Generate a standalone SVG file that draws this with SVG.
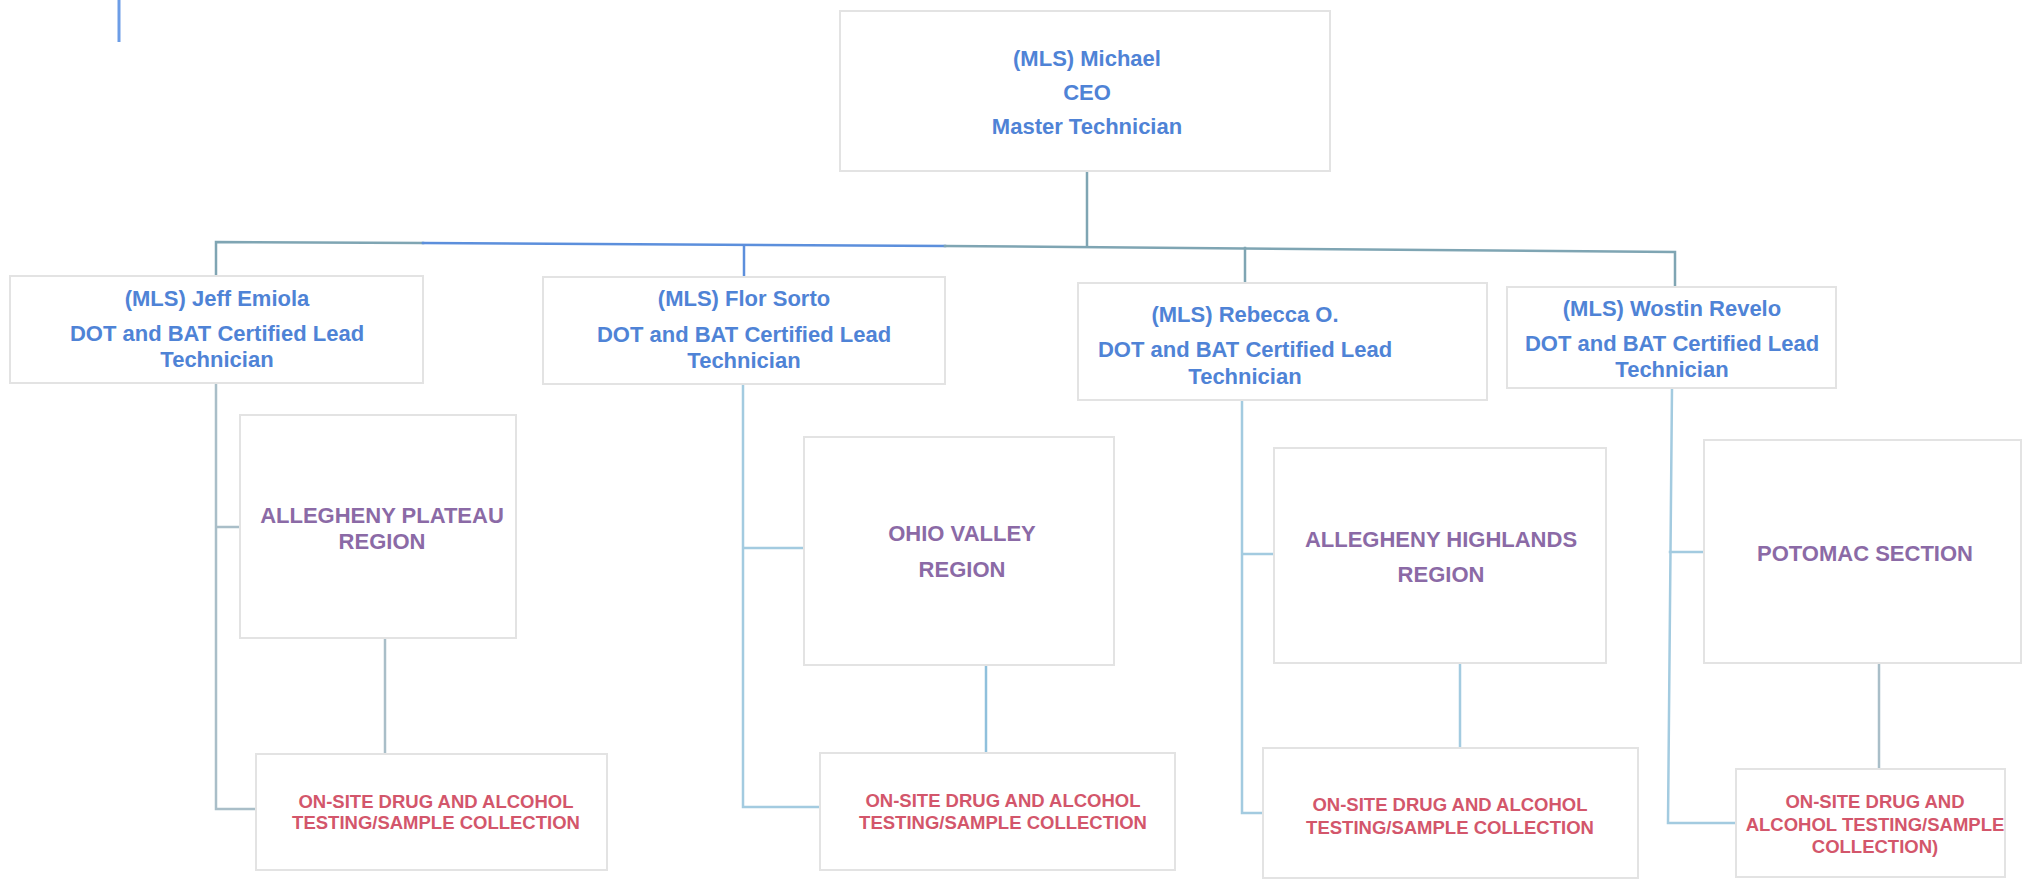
<svg xmlns="http://www.w3.org/2000/svg" width="2028" height="883" viewBox="0 0 2028 883">
<style>
  .box { fill: #ffffff; stroke: #e3e3e3; stroke-width: 2; }
  .t { font-family: "Liberation Sans", Arial, sans-serif; font-weight: bold; text-anchor: middle; }
  .lead { font-size: 22px; fill: #4f83d6; }
  .reg { font-size: 22px; fill: #8b6aa6; }
  .os { font-size: 18.5px; fill: #d3566b; }
  .c { fill: none; stroke-width: 2.5; stroke-linecap: square; }
  .teal { stroke: #7fa5b3; }
  .blue { stroke: #5c8fdc; }
  .grey { stroke: #a9bec8; }
  .lb { stroke: #a3cbe0; }
  .lb2 { stroke: #8fc0dc; }
</style>
<rect width="2028" height="883" fill="#ffffff"/>
<line x1="119" y1="0" x2="119" y2="42" stroke="#6c9de6" stroke-width="3"/>
<g id="connectors">
  <path class="c teal" d="M1087 171 V246"/>
  <path class="c teal" d="M216 276 V242 L423 243"/>
  <path class="c blue" d="M423 243 L945 246"/>
  <path class="c teal" d="M945 246 L1675 252 V287"/>
  <path class="c blue" d="M744 246 V277"/>
  <path class="c teal" d="M1245 248 V283"/>
  <path class="c grey" d="M216 383 V809 H256 M216 527 H240"/>
  <path class="c grey" d="M385 638 V754"/>
  <path class="c lb" d="M743 384 V807 H820 M743 548 H804"/>
  <path class="c lb2" d="M986 665 V753"/>
  <path class="c lb" d="M1242 400 V813 H1263 M1242 554 H1274"/>
  <path class="c lb" d="M1460 663 V748"/>
  <path class="c lb" d="M1672 388 L1668 823 H1736 M1670 552 H1704"/>
  <path class="c grey" d="M1879 663 V769"/>
</g>
<g id="ceo">
  <rect class="box" x="840" y="11" width="490" height="160"/>
  <text class="t lead" x="1087" y="66">(MLS) Michael</text>
  <text class="t lead" x="1087" y="100">CEO</text>
  <text class="t lead" x="1087" y="134">Master Technician</text>
</g>
<g id="jeff">
  <rect class="box" x="10" y="276" width="413" height="107"/>
  <text class="t lead" x="217" y="306">(MLS) Jeff Emiola</text>
  <text class="t lead" x="217" y="341">DOT and BAT Certified Lead</text>
  <text class="t lead" x="217" y="367">Technician</text>
</g>
<g id="flor">
  <rect class="box" x="543" y="277" width="402" height="107"/>
  <text class="t lead" x="744" y="306">(MLS) Flor Sorto</text>
  <text class="t lead" x="744" y="342">DOT and BAT Certified Lead</text>
  <text class="t lead" x="744" y="368">Technician</text>
</g>
<g id="rebecca">
  <rect class="box" x="1078" y="283" width="409" height="117"/>
  <text class="t lead" x="1245" y="322">(MLS) Rebecca O.</text>
  <text class="t lead" x="1245" y="357">DOT and BAT Certified Lead</text>
  <text class="t lead" x="1245" y="384">Technician</text>
</g>
<g id="wostin">
  <rect class="box" x="1507" y="287" width="329" height="101"/>
  <text class="t lead" x="1672" y="316">(MLS) Wostin Revelo</text>
  <text class="t lead" x="1672" y="351">DOT and BAT Certified Lead</text>
  <text class="t lead" x="1672" y="377">Technician</text>
</g>
<g id="plateau">
  <rect class="box" x="240" y="415" width="276" height="223"/>
  <text class="t reg" x="382" y="523">ALLEGHENY PLATEAU</text>
  <text class="t reg" x="382" y="549">REGION</text>
</g>
<g id="ohio">
  <rect class="box" x="804" y="437" width="310" height="228"/>
  <text class="t reg" x="962" y="541">OHIO VALLEY</text>
  <text class="t reg" x="962" y="577">REGION</text>
</g>
<g id="highlands">
  <rect class="box" x="1274" y="448" width="332" height="215"/>
  <text class="t reg" x="1441" y="547">ALLEGHENY HIGHLANDS</text>
  <text class="t reg" x="1441" y="582">REGION</text>
</g>
<g id="potomac">
  <rect class="box" x="1704" y="440" width="317" height="223"/>
  <text class="t reg" x="1865" y="561">POTOMAC SECTION</text>
</g>
<g id="onsite1">
  <rect class="box" x="256" y="754" width="351" height="116"/>
  <text class="t os" x="436" y="808">ON-SITE DRUG AND ALCOHOL</text>
  <text class="t os" x="436" y="829">TESTING/SAMPLE COLLECTION</text>
</g>
<g id="onsite2">
  <rect class="box" x="820" y="753" width="355" height="117"/>
  <text class="t os" x="1003" y="807">ON-SITE DRUG AND ALCOHOL</text>
  <text class="t os" x="1003" y="829">TESTING/SAMPLE COLLECTION</text>
</g>
<g id="onsite3">
  <rect class="box" x="1263" y="748" width="375" height="130"/>
  <text class="t os" x="1450" y="811">ON-SITE DRUG AND ALCOHOL</text>
  <text class="t os" x="1450" y="834">TESTING/SAMPLE COLLECTION</text>
</g>
<g id="onsite4">
  <rect class="box" x="1736" y="769" width="269" height="108"/>
  <text class="t os" x="1875" y="808">ON-SITE DRUG AND</text>
  <text class="t os" x="1875" y="831">ALCOHOL TESTING/SAMPLE</text>
  <text class="t os" x="1875" y="853">COLLECTION)</text>
</g>
</svg>
